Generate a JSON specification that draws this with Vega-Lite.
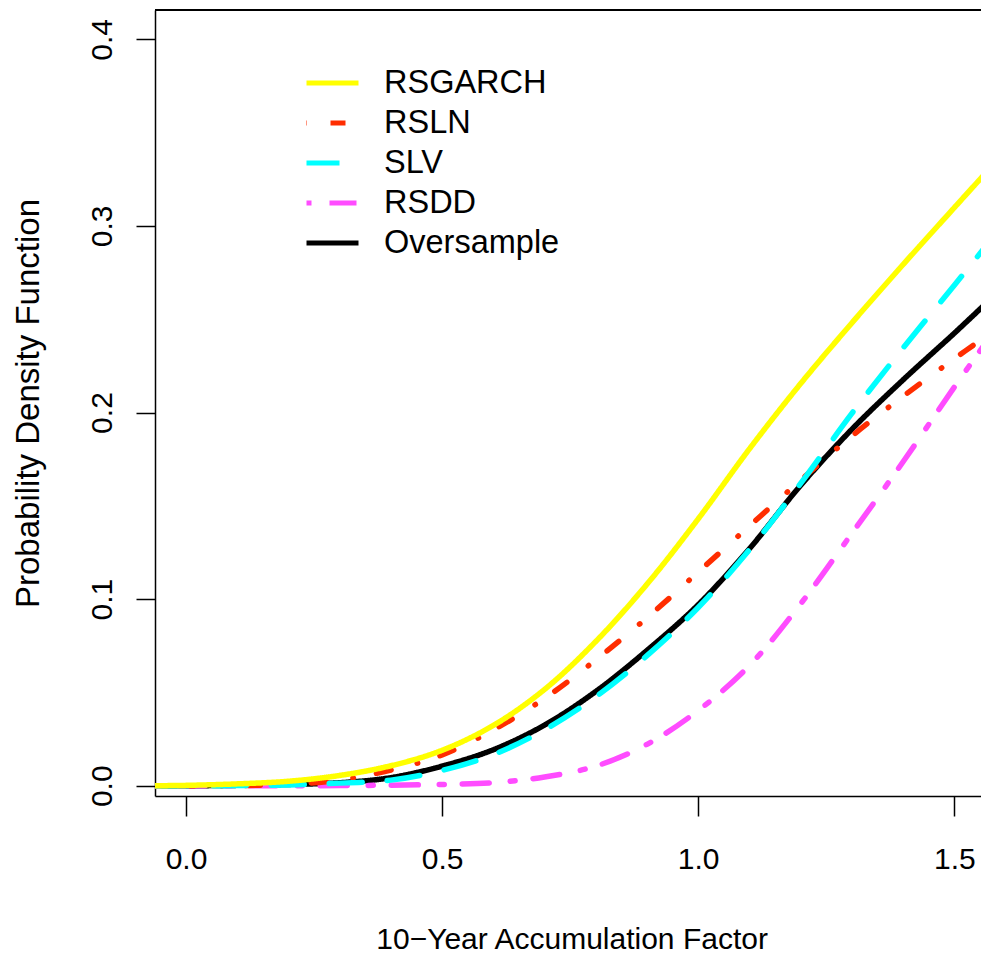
{
  "$schema": "https://vega.github.io/schema/vega-lite/v6.json",
  "width": 826,
  "height": 786,
  "autosize": {"type": "none"},
  "padding": {"left": 155, "top": 10, "right": 0, "bottom": 160},
  "background": "white",
  "config": {
    "view": {"stroke": null},
    "font": "Liberation Sans",
    "axis": {
      "grid": false,
      "domainColor": "black",
      "domainWidth": 1.5,
      "tickColor": "black",
      "tickWidth": 1.5,
      "labelFont": "Liberation Sans",
      "labelFontSize": 30,
      "labelColor": "black",
      "labelOverlap": false,
      "labelFlush": false,
      "labelBound": false,
      "titleFont": "Liberation Sans",
      "titleFontSize": 30,
      "titleFontWeight": "normal",
      "titleColor": "black"
    }
  },
  "data": {
    "values": [
      {"model": "Oversample", "x": -0.06, "density": 0},
      {"model": "Oversample", "x": 0.0, "density": 0},
      {"model": "Oversample", "x": 0.1, "density": 0.0002},
      {"model": "Oversample", "x": 0.2, "density": 0.0007},
      {"model": "Oversample", "x": 0.3, "density": 0.0016},
      {"model": "Oversample", "x": 0.4, "density": 0.0043},
      {"model": "Oversample", "x": 0.5, "density": 0.0105},
      {"model": "Oversample", "x": 0.6, "density": 0.0193},
      {"model": "Oversample", "x": 0.7, "density": 0.0325},
      {"model": "Oversample", "x": 0.8, "density": 0.0505},
      {"model": "Oversample", "x": 0.9, "density": 0.0725},
      {"model": "Oversample", "x": 1.0, "density": 0.097},
      {"model": "Oversample", "x": 1.1, "density": 0.127},
      {"model": "Oversample", "x": 1.2, "density": 0.161},
      {"model": "Oversample", "x": 1.3, "density": 0.191},
      {"model": "Oversample", "x": 1.4, "density": 0.2175},
      {"model": "Oversample", "x": 1.5, "density": 0.2425},
      {"model": "Oversample", "x": 1.56, "density": 0.258},
      {"model": "RSDD", "x": -0.06, "density": 0},
      {"model": "RSDD", "x": 0.0, "density": 0},
      {"model": "RSDD", "x": 0.1, "density": 0},
      {"model": "RSDD", "x": 0.2, "density": 0},
      {"model": "RSDD", "x": 0.3, "density": 0.0001},
      {"model": "RSDD", "x": 0.4, "density": 0.0003},
      {"model": "RSDD", "x": 0.5, "density": 0.0007},
      {"model": "RSDD", "x": 0.6, "density": 0.0016},
      {"model": "RSDD", "x": 0.7, "density": 0.0047},
      {"model": "RSDD", "x": 0.8, "density": 0.0105},
      {"model": "RSDD", "x": 0.9, "density": 0.0222},
      {"model": "RSDD", "x": 1.0, "density": 0.0403},
      {"model": "RSDD", "x": 1.1, "density": 0.0644},
      {"model": "RSDD", "x": 1.2, "density": 0.0975},
      {"model": "RSDD", "x": 1.3, "density": 0.1352},
      {"model": "RSDD", "x": 1.4, "density": 0.1736},
      {"model": "RSDD", "x": 1.5, "density": 0.2136},
      {"model": "RSDD", "x": 1.56, "density": 0.2368},
      {"model": "RSLN", "x": -0.06, "density": 0},
      {"model": "RSLN", "x": 0.0, "density": 0},
      {"model": "RSLN", "x": 0.1, "density": 0.0001},
      {"model": "RSLN", "x": 0.2, "density": 0.0008},
      {"model": "RSLN", "x": 0.3, "density": 0.003},
      {"model": "RSLN", "x": 0.4, "density": 0.0084},
      {"model": "RSLN", "x": 0.5, "density": 0.0165},
      {"model": "RSLN", "x": 0.6, "density": 0.0299},
      {"model": "RSLN", "x": 0.7, "density": 0.0468},
      {"model": "RSLN", "x": 0.8, "density": 0.0674},
      {"model": "RSLN", "x": 0.9, "density": 0.09},
      {"model": "RSLN", "x": 1.0, "density": 0.1145},
      {"model": "RSLN", "x": 1.1, "density": 0.1392},
      {"model": "RSLN", "x": 1.2, "density": 0.1637},
      {"model": "RSLN", "x": 1.3, "density": 0.1874},
      {"model": "RSLN", "x": 1.4, "density": 0.2087},
      {"model": "RSLN", "x": 1.5, "density": 0.2288},
      {"model": "RSLN", "x": 1.56, "density": 0.2405},
      {"model": "SLV", "x": -0.06, "density": 0},
      {"model": "SLV", "x": 0.0, "density": 0},
      {"model": "SLV", "x": 0.1, "density": 0.0001},
      {"model": "SLV", "x": 0.2, "density": 0.0004},
      {"model": "SLV", "x": 0.3, "density": 0.0014},
      {"model": "SLV", "x": 0.4, "density": 0.003},
      {"model": "SLV", "x": 0.5, "density": 0.0082},
      {"model": "SLV", "x": 0.6, "density": 0.0167},
      {"model": "SLV", "x": 0.7, "density": 0.03},
      {"model": "SLV", "x": 0.8, "density": 0.0477},
      {"model": "SLV", "x": 0.9, "density": 0.0697},
      {"model": "SLV", "x": 1.0, "density": 0.0955},
      {"model": "SLV", "x": 1.1, "density": 0.1265},
      {"model": "SLV", "x": 1.2, "density": 0.162},
      {"model": "SLV", "x": 1.3, "density": 0.1995},
      {"model": "SLV", "x": 1.4, "density": 0.2346},
      {"model": "SLV", "x": 1.5, "density": 0.2682},
      {"model": "SLV", "x": 1.56, "density": 0.2886},
      {"model": "RSGARCH", "x": -0.06, "density": 0},
      {"model": "RSGARCH", "x": 0.0, "density": 0.0002},
      {"model": "RSGARCH", "x": 0.1, "density": 0.001},
      {"model": "RSGARCH", "x": 0.2, "density": 0.0024},
      {"model": "RSGARCH", "x": 0.3, "density": 0.0055},
      {"model": "RSGARCH", "x": 0.4, "density": 0.0107},
      {"model": "RSGARCH", "x": 0.5, "density": 0.019},
      {"model": "RSGARCH", "x": 0.6, "density": 0.0323},
      {"model": "RSGARCH", "x": 0.7, "density": 0.0516},
      {"model": "RSGARCH", "x": 0.8, "density": 0.0773},
      {"model": "RSGARCH", "x": 0.9, "density": 0.108},
      {"model": "RSGARCH", "x": 1.0, "density": 0.143},
      {"model": "RSGARCH", "x": 1.1, "density": 0.1805},
      {"model": "RSGARCH", "x": 1.2, "density": 0.2155},
      {"model": "RSGARCH", "x": 1.3, "density": 0.248},
      {"model": "RSGARCH", "x": 1.4, "density": 0.2793},
      {"model": "RSGARCH", "x": 1.5, "density": 0.3098},
      {"model": "RSGARCH", "x": 1.56, "density": 0.328}
    ]
  },
  "layer": [
    {
      "mark": {
        "type": "line",
        "strokeWidth": 5.5,
        "strokeCap": "round",
        "interpolate": "catmull-rom",
        "clip": true
      },
      "encoding": {
        "x": {
          "field": "x",
          "type": "quantitative",
          "scale": {"domain": [-0.0605, 1.5521], "nice": false, "zero": false},
          "axis": {
            "values": [0, 0.5, 1, 1.5],
            "format": ".1f",
            "tickSize": 20,
            "labelPadding": 52,
            "labelBaseline": "alphabetic",
            "title": "10−Year Accumulation Factor",
            "titleX": 416.6,
            "titleY": 152,
            "titleAlign": "center",
            "titleBaseline": "alphabetic"
          }
        },
        "y": {
          "field": "density",
          "type": "quantitative",
          "scale": {"domain": [-0.0055, 0.4157], "nice": false, "zero": false},
          "axis": {
            "values": [0, 0.1, 0.2, 0.3, 0.4],
            "format": ".1f",
            "tickSize": 19,
            "labelAngle": 270,
            "labelAlign": "center",
            "labelBaseline": "alphabetic",
            "labelPadding": 25,
            "title": "Probability Density Function",
            "titleFontSize": 33,
            "titleAngle": 270,
            "titleX": -117,
            "titleY": 393,
            "titleAlign": "center",
            "titleBaseline": "alphabetic"
          }
        },
        "color": {
          "field": "model",
          "type": "nominal",
          "scale": {
            "domain": ["RSGARCH", "RSLN", "SLV", "RSDD", "Oversample"],
            "range": ["#FFFF00", "#FF2D00", "#00FFFF", "#FF4CFF", "#000000"]
          },
          "legend": {
            "orient": "none",
            "legendX": 149,
            "legendY": 53,
            "title": null,
            "padding": 0,
            "symbolType": "stroke",
            "symbolSize": 2704,
            "symbolStrokeWidth": 5,
            "clipHeight": 40,
            "labelFont": "Liberation Sans",
            "labelFontSize": 32.5,
            "labelColor": "black",
            "labelLimit": 400,
            "labelOffset": 23,
            "rowPadding": 0,
            "encoding": {"symbols": {"update": {"strokeCap": {"value": "round"}}}}
          }
        },
        "strokeDash": {
          "field": "model",
          "type": "nominal",
          "scale": {
            "domain": ["RSGARCH", "RSLN", "SLV", "RSDD", "Oversample"],
            "range": [[1, 0], [0.5, 23.5, 15, 27], [33, 25], [5, 18, 27, 21], [1, 0]]
          },
          "legend": null
        }
      }
    },
    {
      "mark": {"type": "rule", "color": "black", "strokeWidth": 1.5},
      "encoding": {"y": {"datum": 0.4157}}
    }
  ]
}
